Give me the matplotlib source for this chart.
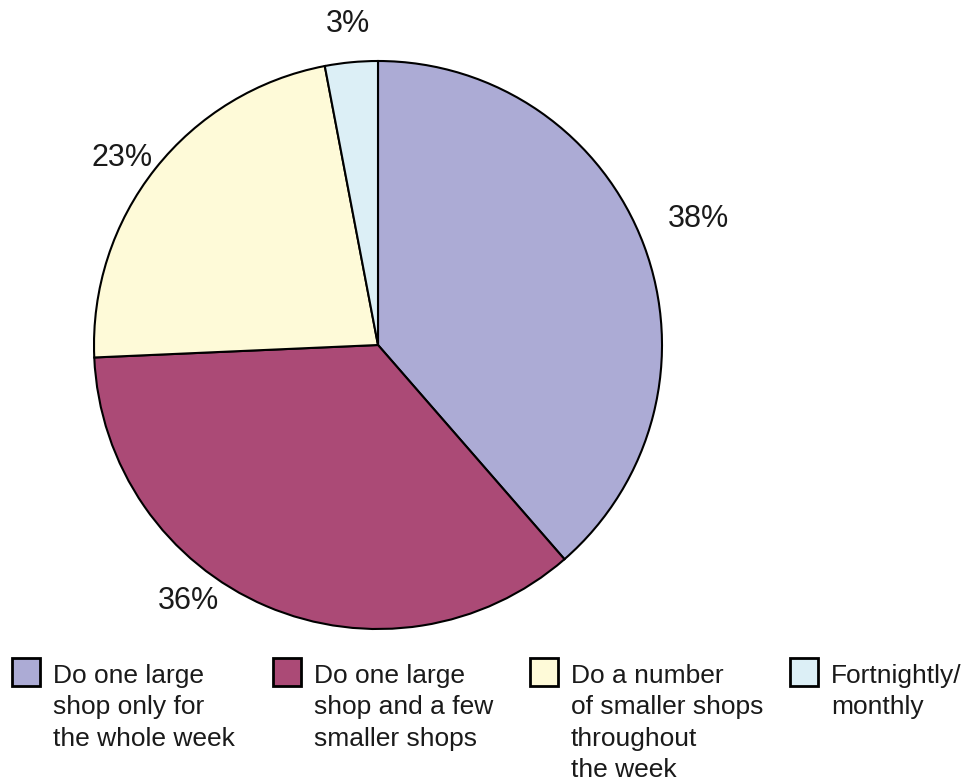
import matplotlib.pyplot as plt
from matplotlib.patches import Rectangle

plt.rcParams['font.family'] = ['Liberation Sans', 'DejaVu Sans']

# dados
labels = ['Do one large\nshop only for\nthe whole week',
          'Do one large\nshop and a few\nsmaller shops',
          'Do a number\nof smaller shops\nthroughout\nthe week',
          'Fortnightly/\nmonthly']
values = [38.6, 35.7, 22.7, 3.0]  # fatias como desenhadas
colors = ['#ACABD5', '#AB4A76', '#FEFAD8', '#DCEFF6']
pct_labels = ['38%', '36%', '23%', '3%']
pct_pos = [(698, 219), (188, 601), (122, 158), (348, 24)]  # pixels (x, y de cima)
legend_x = [12, 273, 530, 790]

W, H = 977, 782
fig = plt.figure(figsize=(W / 100, H / 100), dpi=100)
ax = fig.add_axes([0, 0, 1, 1])

cx, cy, r = 378, H - 345, 284
ax.pie(values, colors=colors, startangle=90, counterclock=False,
       center=(cx, cy), radius=r,
       wedgeprops=dict(edgecolor='black', linewidth=1.5))

for txt, (x, y) in zip(pct_labels, pct_pos):
    ax.text(x, H - y, txt, fontsize=22, ha='center', va='center', color='#1a1a1a')

# legenda manual
for lab, col, x in zip(labels, colors, legend_x):
    ax.add_patch(Rectangle((x, H - 686), 28, 28, facecolor=col,
                           edgecolor='black', linewidth=2))
    ax.text(x + 41, H - 664, lab, fontsize=19, ha='left', va='top',
            linespacing=1.39, color='#1a1a1a')

ax.set_xlim(0, W)
ax.set_ylim(0, H)
ax.set_aspect('auto')
ax.axis('off')

fig.savefig('out.png', dpi=100)
